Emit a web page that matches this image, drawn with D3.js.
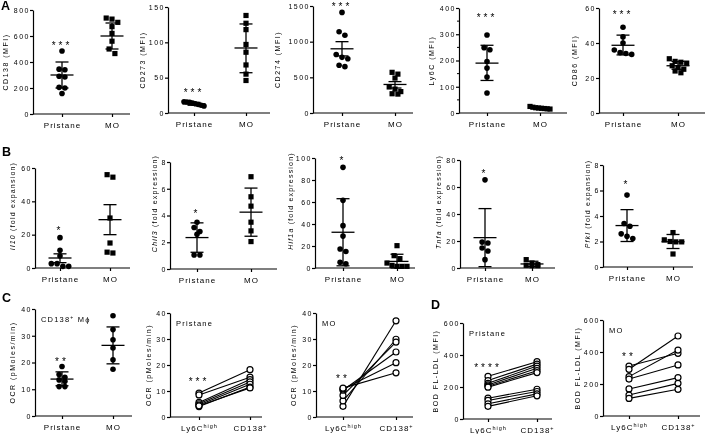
<!DOCTYPE html>
<html>
<head>
<meta charset="utf-8">
<script src="https://cdn.jsdelivr.net/npm/d3@7"></script>
<style>
  body { margin: 0; background: #fff; }
  svg { display: block; will-change: transform; -webkit-font-smoothing: antialiased; }
  svg text { fill: #000; }
</style>
</head>
<body>
<svg width="708" height="434"></svg>
<script>
// ---------- data ----------
var groups = ["Pristane", "MO"];
var pairs = ["Ly6C", "CD138"];

// A - surface markers, MFI.  bars = [mean, low, high] per group
var cd138Pri = [485, 345, 340, 290, 285, 205, 200, 158];
var cd138MO  = [738, 730, 705, 672, 620, 560, 500, 465];
var cd138Bar = [[300, 200, 400], [600, 500, 700]];

var cd273Pri = [16, 15.5, 15, 14, 13, 12, 11, 10];
var cd273MO  = [138, 127, 118, 97, 86, 68, 55, 46];
var cd273Bar = [[13, 11, 15], [92, 57, 126]];

var cd274Pri = [1410, 1140, 1090, 820, 780, 760, 670, 650];
var cd274MO  = [570, 545, 490, 365, 335, 300, 270, 265];
var cd274Bar = [[900, 800, 1000], [400, 350, 440]];

var ly6cPri = [297, 249, 241, 196, 171, 137, 76];
var ly6cMO  = [25, 22, 20, 19, 18, 17, 16, 15];
var ly6cBar = [[190, 124, 258], [19, 16, 22]];

var cd86Pri = [49, 43.5, 40, 36, 34.5, 34, 33.5];
var cd86MO  = [31, 29.5, 29, 28.5, 27, 26, 25, 24, 23];
var cd86Bar = [[38.7, 33.2, 44.5], [27, 25, 29.5]];

// B - gene expression
var il10Pri = [18.2, 10.6, 7.2, 2.6, 2.6, 1, 1];
var il10MO  = [56, 54.5, 30, 15, 9.5, 9];
var il10Bar = [[6, 3.2, 8.5], [29, 20, 38]];

var chil3Pri = [3.5, 3.1, 2.8, 2.6, 1.05, 1.05];
var chil3MO  = [6.9, 5.4, 4.7, 3.5, 2.85, 2.05];
var chil3Bar = [[2.35, 1.25, 3.45], [4.25, 2.45, 6.05]];

var hif1aPri = [91.5, 61.5, 38.5, 29, 17.3, 15, 5.2, 3.9];
var hif1aMO  = [20.3, 11.2, 8.5, 4.5, 2.4, 1.5, 1.5, 1.5];
var hif1aBar = [[32.5, 2, 63], [6, 0, 12.5]];

var tnfaPri = [65.3, 19.2, 18.5, 14.8, 12.6, 6.2];
var tnfaMO  = [6.2, 3.7, 2.5, 2, 1.7, 1.7];
var tnfaBar = [[22.5, 1, 44], [3, 1, 5]];

var pfklPri = [5.64, 3.41, 3.2, 2.6, 2.41, 2.23];
var pfklMO  = [2.7, 2.13, 2.0, 1.97, 1.97, 1.02];
var pfklBar = [[3.25, 2.0, 4.5], [1.98, 1.45, 2.55]];

// C - OCR
var ocrPri = [18.5, 15.5, 14.5, 13.5, 13, 11, 11];
var ocrMO  = [37.5, 32.3, 28.5, 25.4, 21, 17.5];
var ocrBar = [[13.8, 11.3, 16.5], [26.4, 19.5, 33.3]];

var ocrPriLy6c  = [9.2, 8.5, 5.6, 5.1, 4.6, 4.0, 4.3];
var ocrPriCd138 = [18.2, 15.3, 14.4, 13.5, 12.6, 11.5, 11.2];
var ocrMOLy6c   = [4.1, 6.2, 8.3, 10.3, 10.8, 11.1];
var ocrMOCd138  = [37, 29.9, 28.8, 25, 20.9, 17];

// D - BODIPY FL-LDL uptake
var ldlPriLy6c  = [267, 240, 223, 213, 205, 199, 130, 116, 95, 79];
var ldlPriCd138 = [358, 343, 331, 317, 302, 290, 186, 172, 157, 145];
var ldlMOLy6c   = [312, 292, 246, 231, 169, 131, 110];
var ldlMOCd138  = [392, 500, 412, 319, 240, 204, 167];

// ---------- drawing ----------
var FONT = "'Liberation Sans', Arial, Helvetica, sans-serif";
var svg = d3.select("svg").attr("font-family", FONT);

function styleAxis(g, fs, ls) {
  g.attr("font-family", FONT).attr("font-size", fs);
  g.select(".domain").attr("stroke", "#000").attr("stroke-width", 1.2);
  g.selectAll(".tick line").attr("stroke", "#000").attr("stroke-width", 1.2);
  g.selectAll(".tick text").attr("fill", "#000").attr("letter-spacing", ls);
}

function frame(p, cats) {
  var y = d3.scaleLinear().domain([0, p.max]).range(p.yr);
  var x = d3.scalePoint().domain(cats).range(p.cx);
  var g = svg.append("g");

  var ya = g.append("g")
    .attr("transform", "translate(" + p.ax + ",0)")
    .call(d3.axisLeft(y)
      .tickValues(d3.range(0, p.max + p.step / 2, p.step))
      .tickFormat(d3.format("d"))
      .tickSize(3).tickSizeOuter(0).tickPadding(0));
  styleAxis(ya, 7, 1.5);

  if (p.minor) {
    g.append("g").selectAll("line")
      .data(d3.range(p.minor, p.max, p.step))
      .join("line")
      .attr("x1", p.ax - 2).attr("x2", p.ax)
      .attr("y1", function(d) { return y(d); })
      .attr("y2", function(d) { return y(d); })
      .attr("stroke", "#000").attr("stroke-width", 1);
  }

  var xa = g.append("g")
    .attr("transform", "translate(0," + p.yr[0] + ")")
    .call(d3.axisBottom(x).tickSize(3).tickPadding(5));
  xa.select(".domain").remove();
  xa.append("line")
    .attr("x1", p.ax).attr("x2", p.xe)
    .attr("stroke", "#000").attr("stroke-width", 1.2);
  styleAxis(xa, 8, 1);

  // axis title, rotated
  var t = g.append("text")
    .attr("transform", "translate(" + p.tx + "," + ((p.yr[0] + p.yr[1]) / 2 + (p.tdy || 0)) + ") rotate(-90)")
    .attr("text-anchor", "middle")
    .attr("font-size", p.tfs || 7)
    .attr("letter-spacing", p.tls == null ? 1.5 : p.tls);
  p.title.forEach(function(part) {
    t.append("tspan").attr("font-style", part[1] ? "italic" : null).text(part[0]);
  });

  // significance stars over the first group
  g.append("text")
    .attr("x", x(cats[0]))
    .attr("y", y(p.starAt) + 5.7)
    .attr("text-anchor", "middle")
    .attr("font-size", 10)
    .attr("letter-spacing", 3)
    .text(p.stars);

  if (p.inset) {
    var it = g.append("text")
      .attr("x", p.ax + 6).attr("y", p.yr[1] + 10)
      .attr("font-size", 7.5).attr("letter-spacing", 1.2);
    p.inset.forEach(function(part) {
      if (part[1]) it.append("tspan").attr("font-size", 5).attr("dy", -3).text(part[0]);
      else it.append("tspan").attr("dy", it.selectAll("tspan").size() ? 3 : 0).text(part[0]);
    });
  }
  return { g: g, x: x, y: y };
}

// spread points sharing (nearly) the same height, like a column scatter
function spread(vals, y, r) {
  var sorted = vals.slice().sort(function(a, b) { return b - a; });
  var rows = [];
  sorted.forEach(function(v) {
    var last = rows[rows.length - 1];
    if (last && Math.abs(y(v) - y(last[0])) < 2 * r) last.push(v);
    else rows.push([v]);
  });
  var out = [];
  rows.forEach(function(row) {
    var gap = Math.min(2 * r + 0.6, row.length > 1 ? 20 / (row.length - 1) : 0);
    row.forEach(function(v, i) {
      out.push({ v: v, dx: (i - (row.length - 1) / 2) * gap });
    });
  });
  return out;
}

function scatterPanel(p) {
  var f = frame(p, groups);
  var r = 2.6;
  p.vals.forEach(function(vals, gi) {
    var cx = f.x(groups[gi]);
    var pts = spread(vals, f.y, r);
    var square = p.shapes[gi] === "square";
    if (square) {
      f.g.append("g").selectAll("rect").data(pts).join("rect")
        .attr("x", function(d) { return cx + d.dx - r; })
        .attr("y", function(d) { return f.y(d.v) - r; })
        .attr("width", 2 * r).attr("height", 2 * r)
        .attr("fill", "#000");
    } else {
      f.g.append("g").selectAll("circle").data(pts).join("circle")
        .attr("cx", function(d) { return cx + d.dx; })
        .attr("cy", function(d) { return f.y(d.v); })
        .attr("r", r + 0.2)
        .attr("fill", "#000");
    }
    var b = p.bars[gi];
    var eg = f.g.append("g").attr("stroke", "#000").attr("stroke-width", 1.3);
    eg.append("line").attr("x1", cx).attr("x2", cx).attr("y1", f.y(b[1])).attr("y2", f.y(b[2]));
    eg.append("line").attr("x1", cx - 11.5).attr("x2", cx + 11.5).attr("y1", f.y(b[0])).attr("y2", f.y(b[0]));
    [b[1], b[2]].forEach(function(v) {
      eg.append("line").attr("x1", cx - 6.5).attr("x2", cx + 6.5).attr("y1", f.y(v)).attr("y2", f.y(v));
    });
  });
}

function pairedPanel(p) {
  var f = frame(p, pairs);
  var x0 = f.x(pairs[0]), x1 = f.x(pairs[1]);
  var idx = d3.range(p.left.length);
  f.g.append("g").selectAll("line").data(idx).join("line")
    .attr("x1", x0).attr("x2", x1)
    .attr("y1", function(i) { return f.y(p.left[i]); })
    .attr("y2", function(i) { return f.y(p.right[i]); })
    .attr("stroke", "#000").attr("stroke-width", 1.1);
  var cg = f.g.append("g").attr("fill", "#fff").attr("stroke", "#000").attr("stroke-width", 1.2);
  idx.forEach(function(i) {
    cg.append("circle").attr("cx", x0).attr("cy", f.y(p.left[i])).attr("r", 3);
    cg.append("circle").attr("cx", x1).attr("cy", f.y(p.right[i])).attr("r", 3);
  });
  // category labels with superscripts
  var sup = { "Ly6C": "high", "CD138": "+" };
  f.g.selectAll(".tick text").each(function(d) {
    var t = d3.select(this);
    if (!sup[d]) return;
    t.text(null);
    t.append("tspan").text(d);
    t.append("tspan").attr("font-size", 5.5).attr("dy", -3).text(sup[d]);
  });
}

var scatters = [
  { title: [["CD138 (MFI)"]], vals: [cd138Pri, cd138MO], bars: cd138Bar, shapes: ["circle", "square"],
    max: 800, step: 200, stars: "***", starAt: 545, ax: 33, cx: [62, 112], xe: 130, yr: [114, 10], tx: 7.5 },
  { title: [["CD273 (MFI)"]], vals: [cd273Pri, cd273MO], bars: cd273Bar, shapes: ["circle", "square"],
    max: 150, step: 50, stars: "***", starAt: 32.5, ax: 168, cx: [194, 246], xe: 270, yr: [113, 7], tx: 145 },
  { title: [["CD274 (MFI)"]], vals: [cd274Pri, cd274MO], bars: cd274Bar, shapes: ["circle", "square"],
    max: 1500, step: 500, stars: "***", starAt: 1528, ax: 313, cx: [342, 395], xe: 413, yr: [113, 6], tx: 280 },
  { title: [["Ly6C (MFI)"]], vals: [ly6cPri, ly6cMO], bars: ly6cBar, shapes: ["circle", "square"],
    max: 400, step: 100, minor: 50, stars: "***", starAt: 373, ax: 459, cx: [487, 540], xe: 567, yr: [113, 8], tx: 434 },
  { title: [["CD86 (MFI)"]], vals: [cd86Pri, cd86MO], bars: cd86Bar, shapes: ["circle", "square"],
    max: 60, step: 20, stars: "***", starAt: 57.7, ax: 599, cx: [623, 678], xe: 705, yr: [113, 8], tx: 577 },

  { title: [["Il10", true], [" (fold expansion)"]], vals: [il10Pri, il10MO], bars: il10Bar, shapes: ["circle", "square"],
    max: 60, step: 20, stars: "*", starAt: 24, ax: 35, cx: [60, 110], xe: 130, yr: [268, 168], tx: 15, tls: 1.2, tdy: -12 },
  { title: [["Chil3", true], [" (fold expression)"]], vals: [chil3Pri, chil3MO], bars: chil3Bar, shapes: ["circle", "square"],
    max: 8, step: 2, stars: "*", starAt: 4.34, ax: 170, cx: [197, 251], xe: 277, yr: [269, 162], tx: 157, tls: 1.2, tdy: -12 },
  { title: [["Hif1a", true], [" (fold expression)"]], vals: [hif1aPri, hif1aMO], bars: hif1aBar, shapes: ["circle", "square"],
    max: 100, step: 20, stars: "*", starAt: 100, ax: 315, cx: [343, 397], xe: 415, yr: [268, 158], tx: 293, tls: 1.2, tdy: -12 },
  { title: [["Tnfa", true], [" (fold expression)"]], vals: [tnfaPri, tnfaMO], bars: tnfaBar, shapes: ["circle", "square"],
    max: 80, step: 20, stars: "*", starAt: 71.9, ax: 460, cx: [485, 532], xe: 555, yr: [268, 160], tx: 441, tls: 1.2, tdy: -12 },
  { title: [["Pfkl", true], [" (fold expansion)"]], vals: [pfklPri, pfklMO], bars: pfklBar, shapes: ["circle", "square"],
    max: 8, step: 2, stars: "*", starAt: 6.67, ax: 603, cx: [627, 673], xe: 693, yr: [267, 165], tx: 590, tls: 1.2, tdy: -12 },

  { title: [["OCR (pMoles/min)"]], vals: [ocrPri, ocrMO], bars: ocrBar, shapes: ["circle", "circle"],
    max: 40, step: 10, stars: "**", starAt: 21.3, ax: 35, cx: [62, 113], xe: 132, yr: [416, 309], tx: 15,
    inset: [["CD138"], ["+", true], [" M\u03d5"]] }
];

var paired = [
  { title: [["OCR (pMoles/min)"]], left: ocrPriLy6c, right: ocrPriCd138, max: 40, step: 10,
    stars: "***", starAt: 14.6, ax: 170, cx: [199, 250], xe: 262, yr: [417, 313], tx: 150.7, inset: [["Pristane"]] },
  { title: [["OCR (pMoles/min)"]], left: ocrMOLy6c, right: ocrMOCd138, max: 40, step: 10,
    stars: "**", starAt: 15.8, ax: 316, cx: [343, 396], xe: 413, yr: [417, 313], tx: 296, inset: [["MO"]] },
  { title: [["BOD FL-LDL (MFI)"]], left: ldlPriLy6c, right: ldlPriCd138, max: 600, step: 200,
    stars: "****", starAt: 337, ax: 463, cx: [488, 537], xe: 552, yr: [419, 323], tx: 438, inset: [["Pristane"]] },
  { title: [["BOD FL-LDL (MFI)"]], left: ldlMOLy6c, right: ldlMOCd138, max: 600, step: 200,
    stars: "**", starAt: 387, ax: 603, cx: [629, 678], xe: 700, yr: [416, 320], tx: 580, inset: [["MO"]] }
];

scatters.forEach(scatterPanel);
paired.forEach(pairedPanel);

// panel letters
var letters = [["A", 1, 10], ["B", 2, 156], ["C", 2, 302], ["D", 431, 309]];
svg.append("g").attr("font-weight", "bold").attr("font-size", 12.5)
  .selectAll("text").data(letters).join("text")
  .attr("x", function(d) { return d[1]; })
  .attr("y", function(d) { return d[2]; })
  .text(function(d) { return d[0]; });
</script>
</body>
</html>
